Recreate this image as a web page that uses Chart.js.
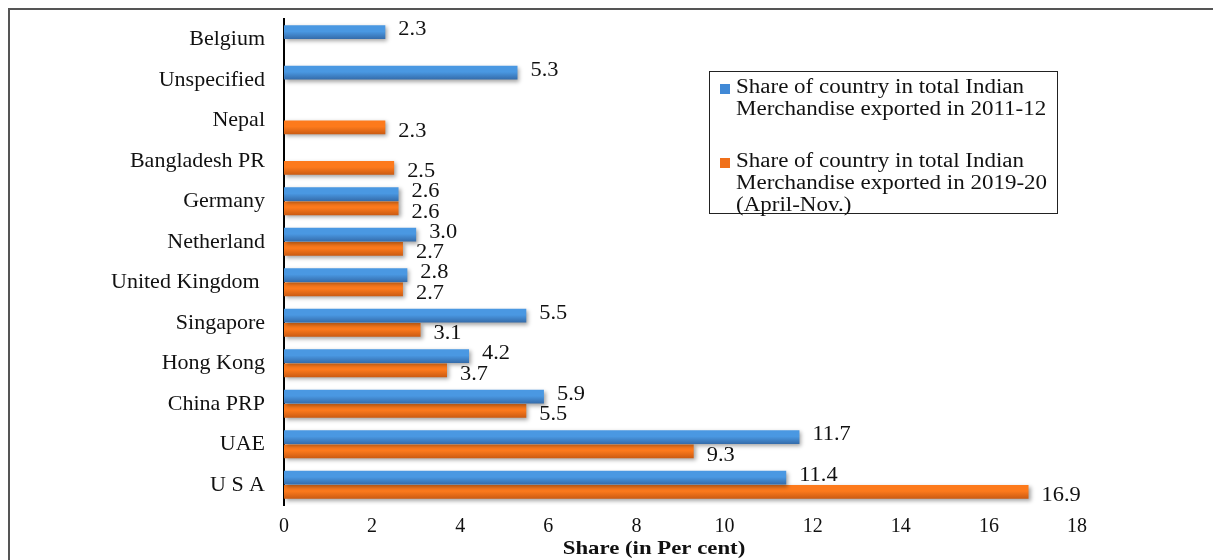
<!DOCTYPE html>
<html lang="en">
  <head>
    <meta charset="UTF-8" />
    <title>Share of country in Indian merchandise exports</title>
    <script src="https://cdn.jsdelivr.net/npm/chart.js@4/dist/chart.umd.min.js"></script>
    <style>
      html, body { margin: 0; padding: 0; background: #fff; }
      #wrap { width: 1213px; height: 560px; }
    </style>
  </head>
  <body>
    <div id="wrap"><canvas id="exportChart" width="1213" height="560"></canvas></div>
    <script>
      // countries, top to bottom
      const countries = ['Belgium', 'Unspecified', 'Nepal', 'Bangladesh PR', 'Germany', 'Netherland',
        'United Kingdom ', 'Singapore', 'Hong Kong', 'China PRP', 'UAE', 'U S A'];
      const share2011 = [2.3, 5.3, null, null, 2.6, 3.0, 2.8, 5.5, 4.2, 5.9, 11.7, 11.4];
      const share2019 = [null, null, 2.3, 2.5, 2.6, 2.7, 2.7, 3.1, 3.7, 5.5, 9.3, 16.9];
      const xTicks = [0, 2, 4, 6, 8, 10, 12, 14, 16, 18];
      const legendText = [
        ['Share of country in total Indian', 'Merchandise exported in 2011-12'],
        ['Share of country in total Indian', 'Merchandise exported in 2019-20', '(April-Nov.)']
      ];
      const axisTitle = 'Share (in Per cent)';

      const SERIF = '"Liberation Serif", "Times New Roman", serif';
      const CAT_PCT = 0.7, BAR_PCT = 0.98;

      // vertical gradient per bar, worked out from the category scale
      function barFill(top, bottom, ds) {
        return function (c) {
          const chart = c.chart, y = chart.scales.y;
          if (!y || y.height == null || !chart.chartArea) return top;
          const center = y.getPixelForValue(c.dataIndex);
          const band = y.height / countries.length;
          const half = band * CAT_PCT / 2;
          const y0 = ds === 0 ? center - half : center;
          const g = chart.ctx.createLinearGradient(0, y0, 0, y0 + half);
          g.addColorStop(0, top);
          g.addColorStop(0.45, top);
          g.addColorStop(1, bottom);
          return g;
        };
      }

      // text a little wider than the font's own proportions
      function wideText(ctx, txt, x, y, sx) {
        ctx.save();
        ctx.translate(x, y);
        ctx.scale(sx, 1);
        ctx.fillText(txt, 0, 0);
        ctx.restore();
      }

      const frame = {
        id: 'frame',
        beforeDatasetsDraw(chart) {
          const ctx = chart.ctx;
          ctx.save();
          ctx.shadowColor = 'rgba(0,0,0,0.35)';
          ctx.shadowBlur = 4;
          ctx.shadowOffsetX = 2;
          ctx.shadowOffsetY = 2;
        },
        afterDatasetsDraw(chart) {
          chart.ctx.restore();
        },
        afterDraw(chart) {
          const ctx = chart.ctx;
          ctx.save();
          // outer border (top + left)
          ctx.strokeStyle = '#555';
          ctx.lineWidth = 2;
          ctx.beginPath();
          ctx.moveTo(9, 560);
          ctx.lineTo(9, 9);
          ctx.lineTo(1213, 9);
          ctx.stroke();

          // value labels
          ctx.fillStyle = '#111';
          ctx.font = '20px ' + SERIF;
          ctx.textBaseline = 'middle';
          ctx.textAlign = 'left';
          [share2011, share2019].forEach((vals, d) => {
            const meta = chart.getDatasetMeta(d);
            vals.forEach((v, i) => {
              if (v == null) return;
              const bar = meta.data[i];
              wideText(ctx, v.toFixed(1), bar.x + 13, bar.y + (d === 0 ? -2 : 4), 1.12);
            });
          });

          // axis title
          ctx.font = 'bold 19px ' + SERIF;
          ctx.textAlign = 'center';
          wideText(ctx, axisTitle, 654, 549, 1.2);

          // legend box
          const lx = 709, ly = 71, lw = 348, lh = 142;
          ctx.strokeStyle = '#222';
          ctx.lineWidth = 1;
          ctx.strokeRect(lx + 0.5, ly + 0.5, lw, lh);
          ctx.font = '20px ' + SERIF;
          ctx.textAlign = 'left';
          const swatches = ['#4189d6', '#f0701a'];
          const starts = [88, 162];
          legendText.forEach((lines, k) => {
            ctx.fillStyle = swatches[k];
            ctx.fillRect(720, starts[k] - 4, 10, 10);
            ctx.fillStyle = '#111';
            lines.forEach((t, j) => wideText(ctx, t, 736, starts[k] + j * 22, 1.15));
          });
          ctx.restore();
        }
      };

      new Chart(document.getElementById('exportChart'), {
        type: 'bar',
        data: {
          labels: countries,
          datasets: [
            {
              label: legendText[0].join(' '),
              data: share2011,
              backgroundColor: barFill('#4a98e2', '#346aa8', 0),
              categoryPercentage: CAT_PCT,
              barPercentage: BAR_PCT
            },
            {
              label: legendText[1].join(' '),
              data: share2019,
              backgroundColor: barFill('#fd7a1c', '#c95a12', 1),
              categoryPercentage: CAT_PCT,
              barPercentage: BAR_PCT
            }
          ]
        },
        options: {
          indexAxis: 'y',
          responsive: false,
          animation: false,
          layout: { padding: { top: 19, right: 136, bottom: 0, left: 0 } },
          plugins: {
            legend: { display: false },
            tooltip: { enabled: false }
          },
          scales: {
            x: {
              min: 0,
              max: 18,
              afterBuildTicks(scale) {
                scale.ticks = xTicks.map(v => ({ value: v }));
              },
              afterFit(scale) { scale.height = 55; },
              grid: { display: false, drawTicks: false },
              border: { display: false },
              ticks: {
                color: '#111',
                padding: 10,
                font: { family: SERIF, size: 20 }
              }
            },
            y: {
              afterFit(scale) {
                scale.width = 284;
                scale.paddingTop = 0;
                scale.paddingBottom = 0;
              },
              grid: { display: false, drawTicks: false },
              border: { display: true, color: '#000', width: 2 },
              ticks: {
                color: '#111',
                padding: 19,
                font: { family: SERIF, size: 22 }
              }
            }
          }
        },
        plugins: [frame]
      });
    </script>
  </body>
</html>
